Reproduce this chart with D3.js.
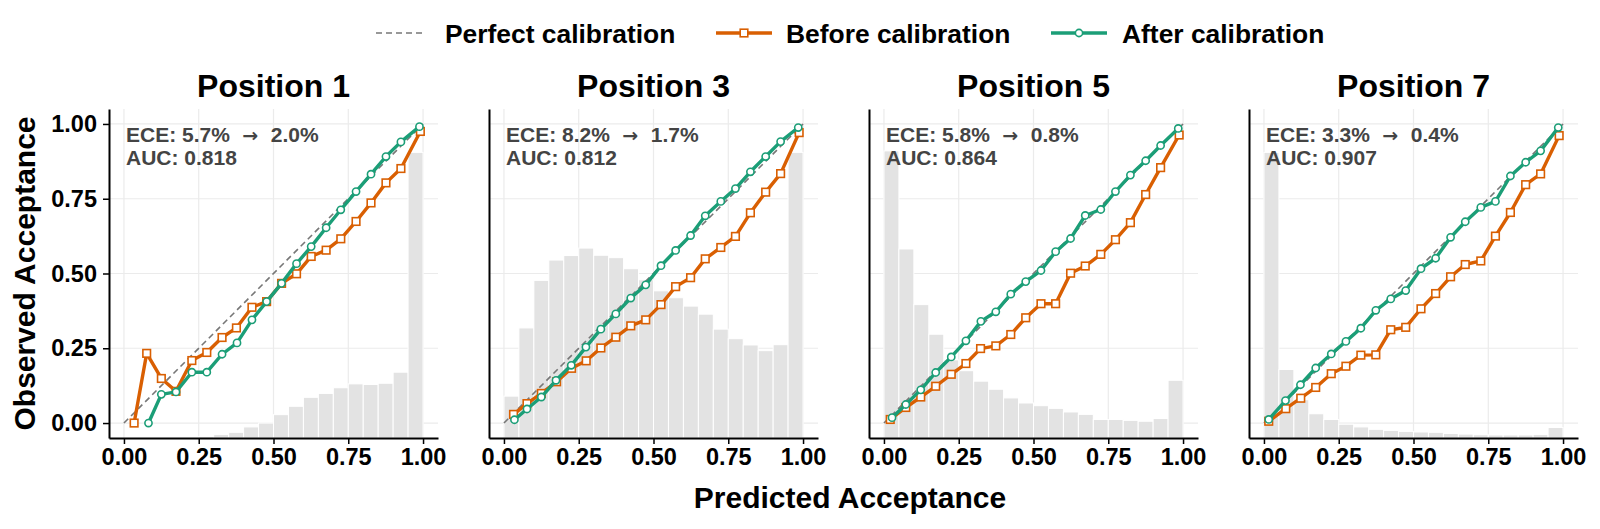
<!DOCTYPE html>
<html>
<head>
<meta charset="utf-8">
<script src="https://cdn.jsdelivr.net/npm/d3@7"></script>
<style>
  body { margin: 0; background: #fff; }
  text { font-family: "Liberation Sans", Arial, sans-serif; font-weight: bold; }
</style>
</head>
<body>
<div id="chart"></div>
<script>
// panel titles and stats
var positions = ["Position 1", "Position 3", "Position 5", "Position 7"];
var eceBefore = ["5.7%", "8.2%", "5.8%", "3.3%"];
var eceAfter = ["2.0%", "1.7%", "0.8%", "0.4%"];
var aucValues = ["0.818", "0.812", "0.864", "0.907"];

var ticks = [0, 0.25, 0.5, 0.75, 1];
var binEdges = [0, 0.05, 0.1, 0.15, 0.2, 0.25, 0.3, 0.35, 0.4, 0.45, 0.5, 0.55, 0.6, 0.65, 0.7, 0.75, 0.8, 0.85, 0.9, 0.95, 1.0];

// histogram bar tops (in axis units, bars start at the bottom of the axis)
var hist1 = [-0.05, -0.05, -0.05, -0.05, -0.05, -0.045, -0.038, -0.031, -0.013, 0.0, 0.028, 0.056, 0.086, 0.099, 0.118, 0.131, 0.129, 0.133, 0.170, 0.905];
var hist3 = [0.090, 0.318, 0.477, 0.545, 0.560, 0.585, 0.561, 0.553, 0.516, 0.479, 0.442, 0.419, 0.391, 0.364, 0.314, 0.282, 0.261, 0.242, 0.262, 0.905];
var hist5 = [0.910, 0.582, 0.396, 0.297, 0.211, 0.175, 0.140, 0.113, 0.084, 0.067, 0.058, 0.049, 0.037, 0.029, 0.012, 0.012, 0.009, 0.006, 0.015, 0.143];
var hist7 = [0.905, 0.179, 0.078, 0.031, 0.012, -0.004, -0.013, -0.021, -0.025, -0.028, -0.030, -0.031, -0.035, -0.037, -0.039, -0.040, -0.040, -0.040, -0.038, -0.015];

// before calibration
var before1X = [0.034, 0.076, 0.125, 0.174, 0.227, 0.277, 0.328, 0.376, 0.428, 0.477, 0.527, 0.577, 0.626, 0.676, 0.725, 0.776, 0.826, 0.876, 0.926, 0.991];
var before1Y = [0.0, 0.233, 0.149, 0.106, 0.209, 0.236, 0.286, 0.318, 0.387, 0.406, 0.467, 0.499, 0.557, 0.578, 0.616, 0.674, 0.736, 0.803, 0.851, 0.975];
var before3X = [0.032, 0.077, 0.125, 0.176, 0.226, 0.275, 0.324, 0.374, 0.424, 0.474, 0.525, 0.574, 0.624, 0.673, 0.725, 0.774, 0.824, 0.875, 0.925, 0.987];
var before3Y = [0.029, 0.065, 0.099, 0.138, 0.183, 0.208, 0.251, 0.287, 0.325, 0.345, 0.396, 0.456, 0.486, 0.549, 0.587, 0.624, 0.703, 0.772, 0.834, 0.971];
var before5X = [0.021, 0.073, 0.123, 0.173, 0.225, 0.274, 0.323, 0.374, 0.424, 0.474, 0.525, 0.574, 0.624, 0.673, 0.725, 0.774, 0.824, 0.875, 0.925, 0.987];
var before5Y = [0.012, 0.052, 0.087, 0.123, 0.163, 0.199, 0.249, 0.258, 0.296, 0.352, 0.399, 0.399, 0.501, 0.525, 0.564, 0.613, 0.670, 0.764, 0.854, 0.963];
var before7X = [0.016, 0.073, 0.123, 0.173, 0.225, 0.274, 0.324, 0.374, 0.424, 0.474, 0.525, 0.574, 0.624, 0.673, 0.725, 0.774, 0.824, 0.875, 0.925, 0.987];
var before7Y = [0.006, 0.048, 0.083, 0.119, 0.165, 0.190, 0.227, 0.228, 0.312, 0.320, 0.382, 0.433, 0.489, 0.530, 0.542, 0.625, 0.704, 0.797, 0.833, 0.961];

// after calibration
var after1X = [0.082, 0.125, 0.174, 0.227, 0.277, 0.328, 0.378, 0.428, 0.477, 0.527, 0.577, 0.626, 0.676, 0.725, 0.776, 0.826, 0.876, 0.926, 0.988];
var after1Y = [0.0, 0.096, 0.104, 0.170, 0.170, 0.230, 0.268, 0.345, 0.406, 0.467, 0.533, 0.590, 0.653, 0.713, 0.774, 0.832, 0.891, 0.940, 0.991];
var after3X = [0.035, 0.077, 0.125, 0.174, 0.225, 0.274, 0.324, 0.374, 0.424, 0.474, 0.525, 0.574, 0.624, 0.673, 0.725, 0.774, 0.824, 0.875, 0.925, 0.984];
var after3Y = [0.011, 0.047, 0.087, 0.143, 0.193, 0.254, 0.314, 0.365, 0.418, 0.462, 0.526, 0.577, 0.627, 0.693, 0.741, 0.784, 0.840, 0.891, 0.941, 0.988];
var after5X = [0.027, 0.073, 0.123, 0.173, 0.225, 0.274, 0.324, 0.374, 0.424, 0.474, 0.525, 0.574, 0.624, 0.673, 0.725, 0.774, 0.824, 0.875, 0.925, 0.984];
var after5Y = [0.018, 0.062, 0.111, 0.169, 0.221, 0.275, 0.340, 0.372, 0.431, 0.473, 0.510, 0.573, 0.617, 0.694, 0.714, 0.774, 0.829, 0.877, 0.928, 0.985];
var after7X = [0.016, 0.072, 0.122, 0.173, 0.225, 0.274, 0.324, 0.374, 0.424, 0.474, 0.525, 0.574, 0.624, 0.673, 0.725, 0.774, 0.824, 0.875, 0.925, 0.984];
var after7Y = [0.012, 0.075, 0.128, 0.184, 0.231, 0.273, 0.317, 0.377, 0.415, 0.443, 0.516, 0.551, 0.621, 0.673, 0.721, 0.741, 0.826, 0.872, 0.910, 0.988];

var hists = [hist1, hist3, hist5, hist7];
var beforeX = [before1X, before3X, before5X, before7X];
var beforeY = [before1Y, before3Y, before5Y, before7Y];
var afterX = [after1X, after3X, after5X, after7X];
var afterY = [after1Y, after3Y, after5Y, after7Y];

var orange = "#d95f02", green = "#1b9e77";

var width = 1600, height = 529;
var panelLeft = 109, panelStep = 380, panelW = 329;
var panelTop = 109, panelBottom = 438;

var svg = d3.select("#chart").append("svg")
    .attr("width", width)
    .attr("height", height);

var y = d3.scaleLinear().domain([-0.05, 1.05]).range([panelBottom, panelTop]);

function zip(xs, ys) {
    return xs.map(function(v, i) { return [v, ys[i]]; });
}

positions.forEach(function(title, p) {
    var left = panelLeft + p * panelStep;
    var x = d3.scaleLinear().domain([-0.05, 1.05]).range([left, left + panelW]);
    var g = svg.append("g");

    // grid
    g.selectAll(".gx").data(ticks).enter().append("line")
        .attr("x1", function(d) { return x(d); }).attr("x2", function(d) { return x(d); })
        .attr("y1", panelTop).attr("y2", panelBottom)
        .attr("stroke", "#ebebeb").attr("stroke-width", 1.2);
    g.selectAll(".gy").data(ticks).enter().append("line")
        .attr("x1", left).attr("x2", left + panelW)
        .attr("y1", function(d) { return y(d); }).attr("y2", function(d) { return y(d); })
        .attr("stroke", "#ebebeb").attr("stroke-width", 1.2);

    // histogram of predictions
    g.selectAll(".bar").data(hists[p]).enter().append("rect")
        .attr("x", function(d, i) { return x(binEdges[i]); })
        .attr("width", function(d, i) { return x(binEdges[i + 1]) - x(binEdges[i]); })
        .attr("y", function(d) { return y(d); })
        .attr("height", function(d) { return Math.max(0, panelBottom - y(d)); })
        .attr("fill", "#e3e3e3")
        .attr("stroke", "#fff").attr("stroke-width", 1);

    // perfect calibration
    g.append("line")
        .attr("x1", x(0)).attr("y1", y(0)).attr("x2", x(1)).attr("y2", y(1))
        .attr("stroke", "#777").attr("stroke-width", 1.6)
        .attr("stroke-dasharray", "6,4");

    var line = d3.line()
        .x(function(d) { return x(d[0]); })
        .y(function(d) { return y(d[1]); });

    var bData = zip(beforeX[p], beforeY[p]);
    var aData = zip(afterX[p], afterY[p]);

    g.append("path").datum(bData)
        .attr("fill", "none").attr("stroke", orange).attr("stroke-width", 3.4)
        .attr("stroke-linejoin", "round").attr("d", line);
    g.selectAll(".sq").data(bData).enter().append("rect")
        .attr("x", function(d) { return x(d[0]) - 3.8; })
        .attr("y", function(d) { return y(d[1]) - 3.8; })
        .attr("width", 7.6).attr("height", 7.6)
        .attr("fill", "#fff").attr("stroke", orange).attr("stroke-width", 1.6);

    g.append("path").datum(aData)
        .attr("fill", "none").attr("stroke", green).attr("stroke-width", 3.4)
        .attr("stroke-linejoin", "round").attr("d", line);
    g.selectAll(".ci").data(aData).enter().append("circle")
        .attr("cx", function(d) { return x(d[0]); })
        .attr("cy", function(d) { return y(d[1]); })
        .attr("r", 3.6)
        .attr("fill", "#fff").attr("stroke", green).attr("stroke-width", 1.6);

    // axes
    var xAxis = g.append("g")
        .attr("transform", "translate(0," + panelBottom + ")")
        .call(d3.axisBottom(x).tickValues(ticks).tickFormat(d3.format(".2f")).tickSizeInner(6).tickSizeOuter(0).tickPadding(4));
    xAxis.select(".domain").attr("stroke-width", 2);
    xAxis.selectAll(".tick line").attr("stroke-width", 1.5);
    xAxis.selectAll("text").attr("font-size", 23.5).attr("fill", "#000")
        .style("font-family", "Liberation Sans, Arial, sans-serif");

    var yAxis = g.append("g")
        .attr("transform", "translate(" + left + ",0)")
        .call(d3.axisLeft(y).tickValues(p === 0 ? ticks : []).tickFormat(d3.format(".2f")).tickSizeInner(6).tickSizeOuter(0).tickPadding(6));
    yAxis.select(".domain").attr("stroke-width", 2);
    yAxis.selectAll(".tick line").attr("stroke-width", 1.5);
    yAxis.selectAll("text").attr("font-size", 23.5).attr("fill", "#000")
        .style("font-family", "Liberation Sans, Arial, sans-serif");

    // title
    g.append("text")
        .attr("x", left + panelW / 2).attr("y", 97)
        .attr("text-anchor", "middle")
        .attr("font-size", 32)
        .text(title);

    // stats box
    var ece = g.append("text")
        .attr("x", left + 17).attr("y", 141.5)
        .attr("font-size", 21).attr("fill", "#444")
        .attr("xml:space", "preserve");
    ece.append("tspan").text("ECE: " + eceBefore[p] + " ");
    ece.append("tspan").style("font-family", "DejaVu Sans").attr("font-size", 19).text(" \u2192 ");
    ece.append("tspan").text(" " + eceAfter[p]);
    g.append("text")
        .attr("x", left + 17).attr("y", 165)
        .attr("font-size", 21).attr("fill", "#444")
        .text("AUC: " + aucValues[p]);
});

// shared axis labels
svg.append("text")
    .attr("x", 850).attr("y", 508)
    .attr("text-anchor", "middle")
    .attr("font-size", 30)
    .text("Predicted Acceptance");
svg.append("text")
    .attr("transform", "translate(35," + (panelTop + panelBottom) / 2 + ") rotate(-90)")
    .attr("text-anchor", "middle")
    .attr("font-size", 30)
    .text("Observed Acceptance");

// legend
var legend = svg.append("g");
legend.append("line")
    .attr("x1", 376).attr("x2", 426).attr("y1", 33).attr("y2", 33)
    .attr("stroke", "#777").attr("stroke-width", 1.6).attr("stroke-dasharray", "6,4");
legend.append("text").attr("x", 445).attr("y", 42.5).attr("font-size", 26.4).text("Perfect calibration");

legend.append("line")
    .attr("x1", 716).attr("x2", 772).attr("y1", 33).attr("y2", 33)
    .attr("stroke", orange).attr("stroke-width", 3.4);
legend.append("rect")
    .attr("x", 744 - 3.8).attr("y", 33 - 3.8).attr("width", 7.6).attr("height", 7.6)
    .attr("fill", "#fff").attr("stroke", orange).attr("stroke-width", 1.6);
legend.append("text").attr("x", 786).attr("y", 42.5).attr("font-size", 26.4).text("Before calibration");

legend.append("line")
    .attr("x1", 1051).attr("x2", 1107).attr("y1", 33).attr("y2", 33)
    .attr("stroke", green).attr("stroke-width", 3.4);
legend.append("circle")
    .attr("cx", 1079).attr("cy", 33).attr("r", 3.6)
    .attr("fill", "#fff").attr("stroke", green).attr("stroke-width", 1.6);
legend.append("text").attr("x", 1122).attr("y", 42.5).attr("font-size", 26.4).text("After calibration");
</script>
</body>
</html>
